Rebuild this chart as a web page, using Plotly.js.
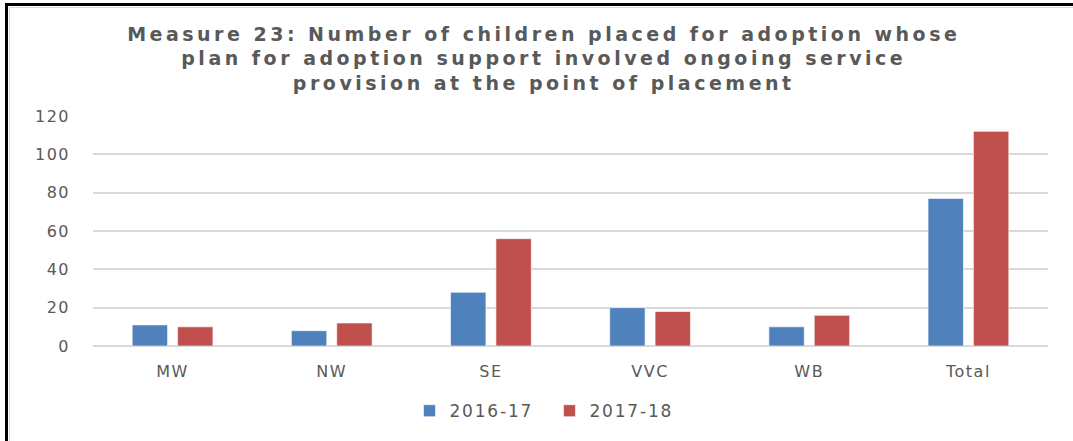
<!DOCTYPE html>
<html>
<head>
<meta charset="utf-8">
<script src="https://cdn.plot.ly/plotly-3.0.1.min.js"></script>
<style>
  html, body { margin: 0; padding: 0; background: #fff; }
  #wrap { position: relative; width: 1073px; height: 441px; overflow: hidden; }
  #chart { position: absolute; left: 0; top: 0; width: 1073px; height: 441px; }
  #frame { position: absolute; left: 5px; top: 3px; width: 1080px; height: 445px;
           border-left: 3px solid #000; border-top: 3px solid #000; pointer-events: none; }
  #inner { position: absolute; left: 9px; top: 7px; width: 1080px; height: 433px;
           border-left: 1px solid #d9d9d9; border-top: 1px solid #d9d9d9; border-bottom: 1px solid #d9d9d9; pointer-events: none; }
  #chart .xtick text, #chart .ytick text { letter-spacing: 1.5px; }
  #chart .legendtext { letter-spacing: 1.8px; }
  #chart .gtitle { letter-spacing: 3.5px; }
</style>
</head>
<body>
<div id="wrap">
  <div id="chart"></div>
  <div id="inner"></div>
  <div id="frame"></div>
</div>
<script>
const categories = ["MW", "NW", "SE", "VVC", "WB", "Total"];
const series2016 = [11, 8, 28, 20, 10, 77];
const series2017 = [10, 12, 56, 18, 16, 112];
const seriesNames = ["2016-17", "2017-18"];
const yTicks = [0, 20, 40, 60, 80, 100, 120];

const fontFamily = "DejaVu Sans, Liberation Sans, Arial, sans-serif";

const traces = [
  { type: "bar", name: seriesNames[0], x: categories, y: series2016,
    marker: { color: "#4f81bd", line: { color: "rgba(255,255,255,0.6)", width: 1 } }, hoverinfo: "none" },
  { type: "bar", name: seriesNames[1], x: categories, y: series2017,
    marker: { color: "#c0504d", line: { color: "rgba(255,255,255,0.6)", width: 1 } }, hoverinfo: "none" }
];

const layout = {
  width: 1073, height: 441,
  paper_bgcolor: "rgba(0,0,0,0)", plot_bgcolor: "rgba(0,0,0,0)",
  margin: { l: 93, r: 25, t: 116, b: 93, pad: 0 },
  barmode: "group", bargap: 0.43, bargroupgap: 0.22,
  title: {
    text: "Measure 23: Number of children placed for adoption whose<br>plan for adoption support involved ongoing service<br>provision at the point of placement",
    font: { family: "DejaVu Sans, Liberation Sans, Arial, sans-serif", size: 19, color: "#595959", weight: "bold" },
    x: 0.472, xanchor: "center", xref: "paper", y: 0.908, yanchor: "top", yref: "container"
  },
  xaxis: {
    type: "category", showgrid: false, zeroline: false, showline: false, ticks: "",
    tickfont: { family: fontFamily, size: 16, color: "#595959" }, ticklabelstandoff: 14
  },
  yaxis: {
    range: [0, 120], tickvals: yTicks, ticktext: yTicks.map(String),
    showgrid: true, gridcolor: "#d9d9d9", gridwidth: 2, zeroline: true, zerolinecolor: "#d9d9d9", zerolinewidth: 2,
    showline: false, ticks: "",
    tickfont: { family: fontFamily, size: 16, color: "#595959" }, ticklabelstandoff: 22
  },
  showlegend: true,
  legend: {
    orientation: "h", x: 0.478, xanchor: "center", y: -0.205, yanchor: "top",
    font: { family: fontFamily, size: 17, color: "#595959" },
    itemwidth: 30, entrywidth: 95, entrywidthmode: "pixels", traceorder: "normal"
  }
};

Plotly.newPlot("chart", traces, layout, { staticPlot: true, displayModeBar: false });
</script>
</body>
</html>
